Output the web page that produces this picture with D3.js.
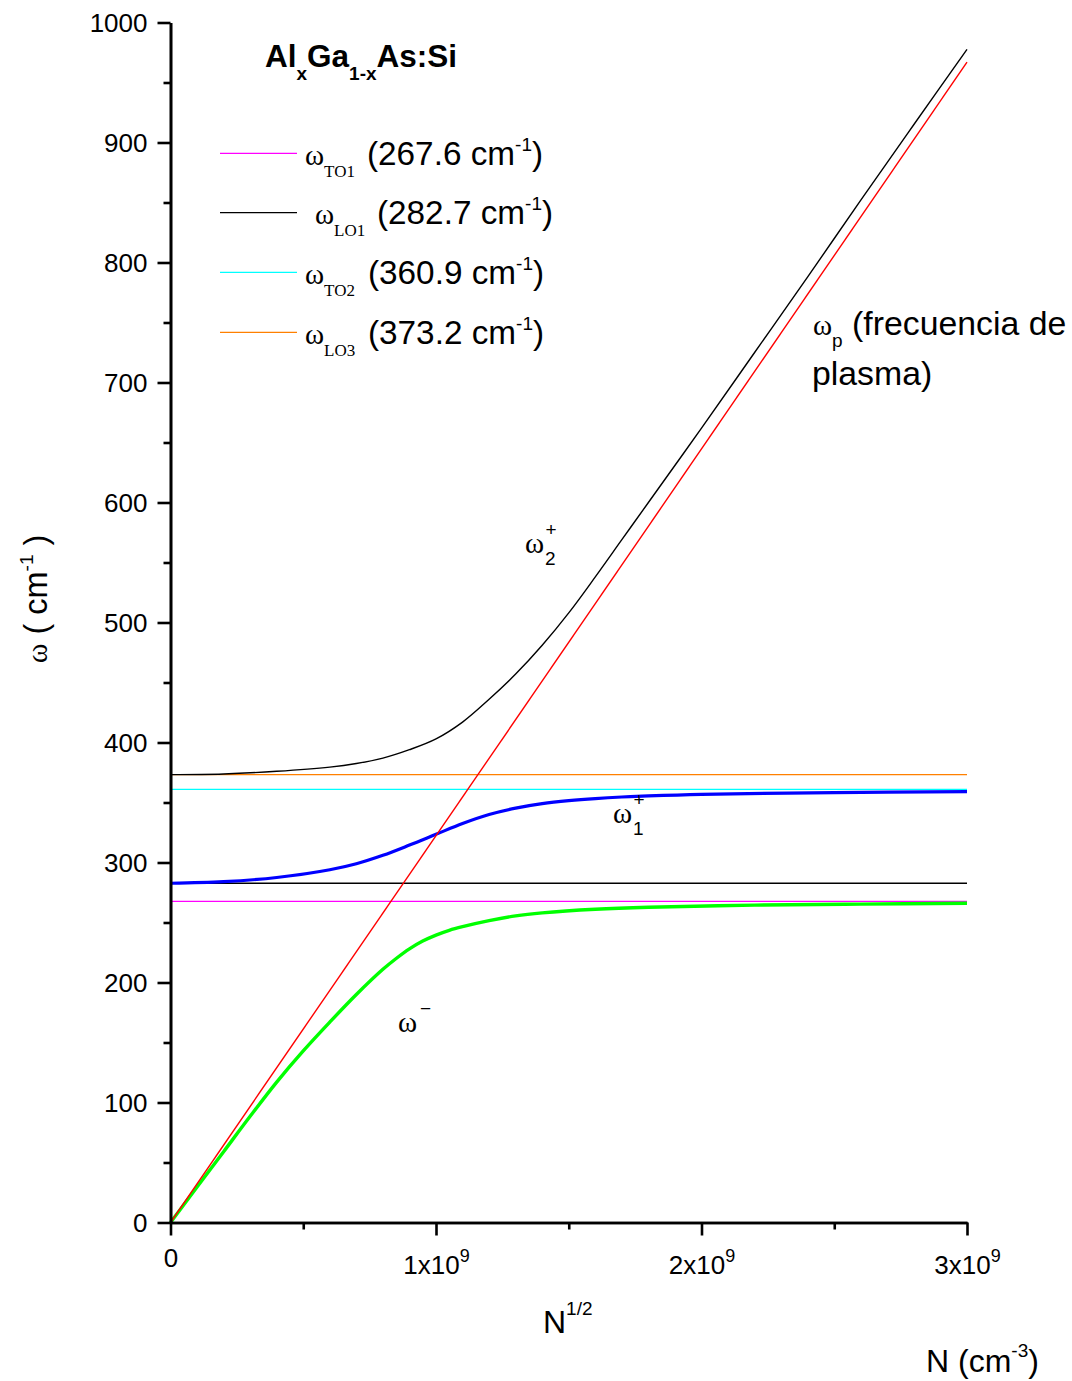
<!DOCTYPE html>
<html>
<head>
<meta charset="utf-8">
<script src="https://cdn.jsdelivr.net/npm/d3@7"></script>
<style>
  html, body { margin: 0; padding: 0; background: #fff; }
  svg { display: block; }
  .sans { font-family: "Liberation Sans", Arial, sans-serif; }
  .serif { font-family: "Liberation Serif", "Times New Roman", serif; }
</style>
</head>
<body>
<svg id="chart" width="1072" height="1381"></svg>
<script>
// ---------------- DATA ----------------
// x values in units of 1e9 (N^1/2), y values in cm^-1
const xMajorTicks = [0, 1e9, 2e9, 3e9];
const xMinorTicks = [0.5e9, 1.5e9, 2.5e9];
const xTickMantissa = ["0", "1x10", "2x10", "3x10"];
const xTickExponent = ["", "9", "9", "9"];
const yMajorTicks = [0, 100, 200, 300, 400, 500, 600, 700, 800, 900, 1000];
const yMinorTicks = [50, 150, 250, 350, 450, 550, 650, 750, 850, 950];

const phononNames = ["TO1", "LO1", "TO2", "LO3"];
const phononFreqs = [267.6, 282.7, 360.9, 373.2];
const phononLabels = ["(267.6 cm", "(282.7 cm", "(360.9 cm", "(373.2 cm"];

// plasma frequency (red straight line)
const plasmaN = [0, 3];
const plasmaW = [0, 967];

// omega2+ (upper branch, black)
const omega2N = [0, 0.2, 0.4, 0.6, 0.7, 0.8, 0.9, 1.0, 1.1, 1.2, 1.3, 1.4, 1.5, 1.6, 1.7, 1.8, 2.0, 2.2, 2.4, 2.6, 2.8, 3.0];
const omega2W = [373.2, 373.8, 376, 379.5, 382.5, 387, 394, 403, 417, 436, 457, 481, 508, 538, 569, 600, 662, 725, 788, 852, 915, 977.6];

// omega1+ (middle branch, blue)
const omega1N = [0, 0.2, 0.4, 0.6, 0.7, 0.8, 0.9, 1.0, 1.1, 1.2, 1.3, 1.4, 1.5, 1.6, 1.7, 1.8, 2.0, 2.5, 3.0];
const omega1W = [282.7, 284, 287.5, 294, 299, 306, 314.5, 323.5, 332.5, 340, 345.3, 349, 351.5, 353.3, 354.6, 355.5, 356.8, 358.3, 359];

// omega- (lower branch, green)
const omegaMN = [0, 0.1, 0.2, 0.3, 0.4, 0.5, 0.6, 0.7, 0.8, 0.85, 0.9, 0.95, 1.0, 1.05, 1.1, 1.2, 1.3, 1.4, 1.6, 1.8, 2.2, 2.6, 3.0];
const omegaMW = [0, 29.5, 59, 88.5, 117, 143, 167, 190, 211, 220, 228, 234.5, 239.5, 243.5, 246.5, 251.5, 255.5, 258, 261, 262.7, 264.5, 265.3, 266];

// ---------------- STYLES ----------------
const phononColors = ["#ff00ff", "#000000", "#00ffff", "#ff8000"];
const NUNIT = 1e9;

const svg = d3.select("#chart");
svg.append("rect").attr("width", 1072).attr("height", 1381).attr("fill", "#fff");

const x = d3.scaleLinear().domain([0, 3e9]).range([170.5, 967]);
const y = d3.scaleLinear().domain([0, 1000]).range([1222.5, 22.5]);

const plot = svg.append("g");

// horizontal phonon lines
plot.selectAll("line.ph").data(phononFreqs).join("line")
  .attr("x1", x(0)).attr("x2", x(3e9))
  .attr("y1", d => y(d)).attr("y2", d => y(d))
  .attr("stroke", (d, i) => phononColors[i]).attr("stroke-width", 1.3);

const line = d3.line().x(d => x(d[0] * NUNIT)).y(d => y(d[1])).curve(d3.curveCatmullRom.alpha(0.5));
const zip = (a, b) => a.map((v, i) => [v, b[i]]);

plot.append("path").datum(zip(omegaMN, omegaMW)).attr("d", line)
  .attr("fill", "none").attr("stroke", "#00ff00").attr("stroke-width", 3.4);
plot.append("path").datum(zip(omega1N, omega1W)).attr("d", line)
  .attr("fill", "none").attr("stroke", "#0000ff").attr("stroke-width", 3.2);
plot.append("path").datum(zip(omega2N, omega2W)).attr("d", line)
  .attr("fill", "none").attr("stroke", "#000").attr("stroke-width", 1.4);
plot.append("path").datum(zip(plasmaN, plasmaW)).attr("d", d3.line().x(d => x(d[0] * NUNIT)).y(d => y(d[1])))
  .attr("fill", "none").attr("stroke", "#ff0000").attr("stroke-width", 1.4);

// ---------------- AXES ----------------
function styleAxis(g) {
  g.select(".domain").attr("stroke", "#000").attr("stroke-width", 2.6);
  g.selectAll(".tick line").attr("stroke", "#000").attr("stroke-width", 2.6);
}

// y axis
const yMinor = svg.append("g").attr("transform", `translate(${x(0)},0)`)
  .call(d3.axisLeft(y).tickValues(yMinorTicks).tickSize(7).tickSizeOuter(0).tickFormat(""));
styleAxis(yMinor);
const yAx = svg.append("g").attr("transform", `translate(${x(0)},0)`)
  .call(d3.axisLeft(y).tickValues(yMajorTicks).tickSize(13).tickSizeOuter(0).tickPadding(10).tickFormat(d3.format("d")));
styleAxis(yAx);
yAx.selectAll(".tick text").attr("class", "sans").attr("font-size", 26).attr("fill", "#000").attr("dy", "0.35em");

// x axis
const xMinor = svg.append("g").attr("transform", `translate(0,${y(0)})`)
  .call(d3.axisBottom(x).tickValues(xMinorTicks).tickSize(7).tickSizeOuter(0).tickFormat(""));
styleAxis(xMinor);
const xAx = svg.append("g").attr("transform", `translate(0,${y(0)})`)
  .call(d3.axisBottom(x).tickValues(xMajorTicks).tickSize(13).tickSizeOuter(0).tickFormat(""));
styleAxis(xAx);
xAx.selectAll(".tick").each(function(d, i) {
  const t = d3.select(this).append("text").attr("class", "sans").attr("fill", "#000")
    .attr("text-anchor", "middle").attr("font-size", 26);
  if (xTickExponent[i] === "") {
    t.attr("y", 44.5).text(xTickMantissa[i]);
  } else {
    t.attr("y", 51.5).attr("x", 0);
    t.append("tspan").text(xTickMantissa[i]);
    t.append("tspan").attr("font-size", 18).attr("dy", -12).text(xTickExponent[i]);
  }
});

// ---------------- TEXT ----------------
// title
const title = svg.append("text").attr("class", "sans").attr("font-weight", "bold")
  .attr("x", 265).attr("y", 67).attr("font-size", 31.5).attr("fill", "#000");
title.append("tspan").text("Al");
title.append("tspan").attr("font-size", 19).attr("dy", 13).text("x");
title.append("tspan").attr("dy", -13).text("Ga");
title.append("tspan").attr("font-size", 19).attr("dy", 13).text("1-x");
title.append("tspan").attr("dy", -13).text("As:Si");

// legend
const legY = [153.3, 212.7, 272.3, 332.3];
const legOmegaX = [305, 315, 305, 305];
const legTextX = [367, 377, 368, 368];
phononNames.forEach((nm, i) => {
  svg.append("line").attr("x1", 220).attr("x2", 297).attr("y1", legY[i]).attr("y2", legY[i])
    .attr("stroke", phononColors[i]).attr("stroke-width", 1.3);
  const base = legY[i] + 11.5;
  const w = svg.append("text").attr("class", "serif").attr("x", legOmegaX[i]).attr("y", base)
    .attr("font-size", 29).attr("fill", "#000");
  w.append("tspan").text("ω");
  w.append("tspan").attr("font-size", 17).attr("dy", 12).text(nm);
  const t = svg.append("text").attr("class", "sans").attr("x", legTextX[i]).attr("y", base)
    .attr("font-size", 33.3).attr("fill", "#000");
  t.append("tspan").text(phononLabels[i]);
  t.append("tspan").attr("font-size", 19).attr("dy", -14).text("-1");
  t.append("tspan").attr("dy", 14).text(")");
});

// omega_p label
const wp = svg.append("text").attr("x", 813).attr("y", 335).attr("fill", "#000");
wp.append("tspan").attr("class", "serif").attr("font-size", 29).text("ω");
wp.append("tspan").attr("class", "sans").attr("font-size", 19).attr("dy", 12).text("p");
wp.append("tspan").attr("class", "sans").attr("font-size", 33.8).attr("dy", -12).text(" (frecuencia de");
svg.append("text").attr("class", "sans").attr("x", 812).attr("y", 385).attr("font-size", 33.8)
  .attr("fill", "#000").text("plasma)");

// branch labels
function branchLabel(xp, yp, sub, sup) {
  svg.append("text").attr("class", "serif").attr("x", xp).attr("y", yp).attr("font-size", 29)
    .attr("fill", "#000").text("ω");
  if (sub) svg.append("text").attr("class", "sans").attr("x", xp + 20).attr("y", yp + 12)
    .attr("font-size", 19).attr("fill", "#000").text(sub);
  if (sup) svg.append("text").attr("class", "sans").attr("x", xp + 20.5).attr("y", yp - 17)
    .attr("font-size", 19).attr("fill", "#000").text(sup);
}
branchLabel(525, 553, "2", "+");
branchLabel(613, 823, "1", "+");
branchLabel(398, 1032, null, null);
svg.append("text").attr("class", "sans").attr("x", 420).attr("y", 1015).attr("font-size", 19)
  .attr("fill", "#000").text("−");

// y axis title
const yt = svg.append("text").attr("transform", "translate(47,599) rotate(-90)")
  .attr("text-anchor", "middle").attr("fill", "#000");
yt.append("tspan").attr("class", "serif").attr("font-size", 30).text("ω");
yt.append("tspan").attr("class", "sans").attr("font-size", 32.5).text(" ( cm");
yt.append("tspan").attr("class", "sans").attr("font-size", 19).attr("dy", -14).text("-1");
yt.append("tspan").attr("class", "sans").attr("font-size", 32.5).attr("dy", 14).text(" )");

// x axis titles
const xt = svg.append("text").attr("class", "sans").attr("x", 543).attr("y", 1333).attr("fill", "#000");
xt.append("tspan").attr("font-size", 32).text("N");
xt.append("tspan").attr("font-size", 19).attr("dy", -18).text("1/2");

const xt2 = svg.append("text").attr("class", "sans").attr("x", 926).attr("y", 1372).attr("fill", "#000");
xt2.append("tspan").attr("font-size", 32).text("N (cm");
xt2.append("tspan").attr("font-size", 19).attr("dy", -15).text("-3");
xt2.append("tspan").attr("font-size", 32).attr("dy", 15).text(")");
</script>
</body>
</html>
